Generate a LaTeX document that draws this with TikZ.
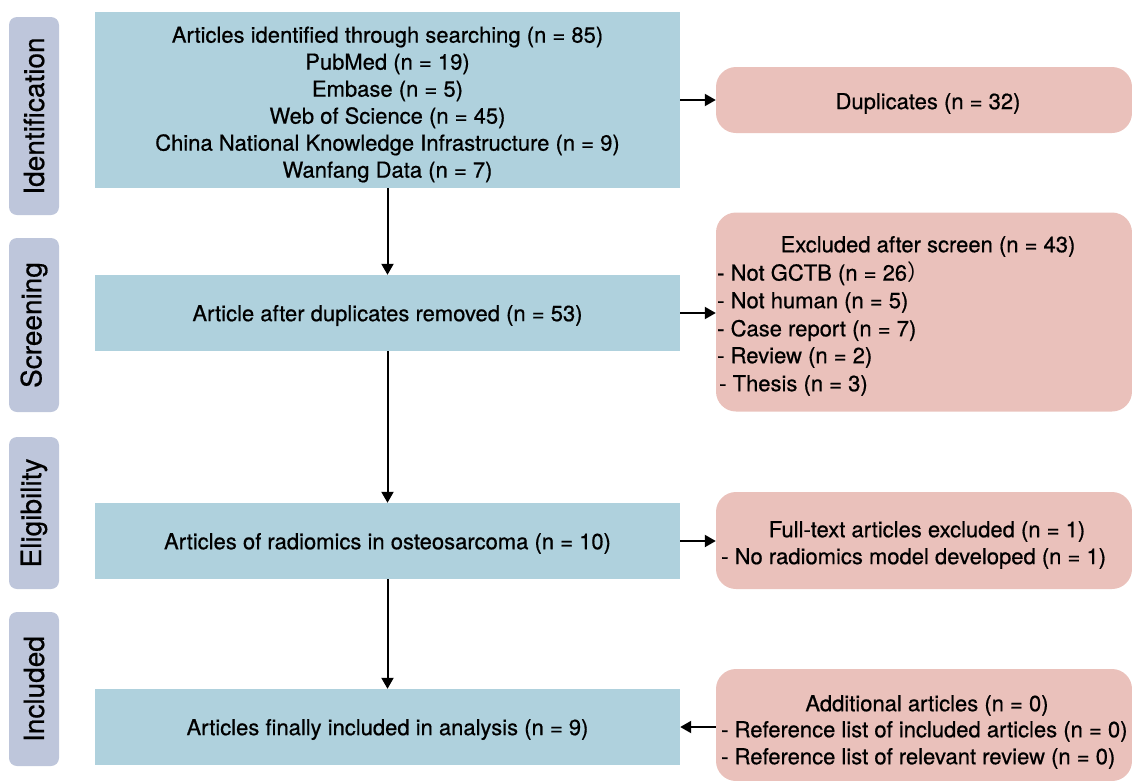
\documentclass[tikz,border=0pt]{standalone}
\usepackage{fontspec}
\setmainfont{TeX Gyre Heros}[FakeBold=0.6]
\newfontfamily\cjkparen{Noto Sans CJK SC}
\usetikzlibrary{arrows.meta}
\definecolor{boxblue}{HTML}{AFD1DD}
\definecolor{boxpink}{HTML}{EAC1BB}
\definecolor{stagegray}{HTML}{BEC6DB}
\tikzset{
  bluebox/.style={fill=boxblue, draw=none, inner sep=0pt},
  pinkbox/.style={fill=boxpink, draw=none, rounded corners=20pt, inner sep=0pt},
  stagebox/.style={fill=stagegray, draw=none, rounded corners=8pt, inner sep=0pt,
    rotate=90, minimum height=50pt, font=\fontsize{28}{30}\selectfont},
  txt/.style={inner sep=0pt, align=center, yshift=-2.5pt, font=\fontsize{22}{27}\selectfont},
  flow/.style={line width=2pt, -{Triangle[length=11pt,width=12pt]}}
}
\begin{document}
\begin{tikzpicture}[x=1pt,y=-1pt]
\useasboundingbox (0,0) rectangle (1132,780);
% stage labels
\node[stagebox, minimum width=198pt] (s1) at (34,116) {Identification};
\node[stagebox, minimum width=174pt] (s2) at (34,325) {Screening};
\node[stagebox, minimum width=152pt] (s3) at (34,513) {Eligibility};
\node[stagebox, minimum width=154pt] (s4) at (34,689) {Included};
% blue boxes
\node[bluebox, minimum width=585pt, minimum height=176pt] (b1) at (387.5,100) {};
\node[bluebox, minimum width=585pt, minimum height=76pt] (b2) at (387.5,313) {};
\node[bluebox, minimum width=585pt, minimum height=76pt] (b3) at (387.5,541) {};
\node[bluebox, minimum width=585pt, minimum height=76pt] (b4) at (387.5,727) {};
\node[txt] (b1t) at (387.5,102)
  {Articles identified through searching (n = 85)\\PubMed (n = 19)\\Embase (n = 5)\\Web of Science (n = 45)\\China National Knowledge Infrastructure (n = 9)\\Wanfang Data (n = 7)};
\node[txt] (b2t) at (b2.center) {Article after duplicates removed (n = 53)};
\node[txt] (b3t) at (b3.center) {Articles of radiomics in osteosarcoma (n = 10)};
\node[txt] (b4t) at (b4.center) {Articles finally included in analysis (n = 9)};
% pink boxes
\node[pinkbox, minimum width=416pt, minimum height=66pt] (p1) at (924,100) {};
\node[pinkbox, minimum width=416pt, minimum height=199pt] (p2) at (924,312) {};
\node[pinkbox, minimum width=416pt, minimum height=97pt] (p3) at (924,540.5) {};
\node[pinkbox, minimum width=416pt, minimum height=112pt] (p4) at (924,725) {};
% pink texts
\node[txt] (p1t) at (928,101) {Duplicates (n = 32)};
\node[txt] (p2t) at (928,244) {Excluded after screen (n = 43)};
\node[txt, anchor=west] (p2a) at (717,271) {- Not GCTB (n = 26{\cjkparen ）}};
\node[txt, anchor=west] (p2b) at (717,300) {- Not human (n = 5)};
\node[txt, anchor=west] (p2c) at (717,328) {- Case report (n = 7)};
\node[txt, anchor=west] (p2d) at (717,355) {- Review (n = 2)};
\node[txt, anchor=west] (p2e) at (719,383) {- Thesis (n = 3)};
\node[txt] (p3t) at (927,529) {Full-text articles excluded (n = 1)};
\node[txt, anchor=west] (p3a) at (721,556) {- No radiomics model developed (n = 1)};
\node[txt] (p4t) at (927,703) {Additional articles (n = 0)};
\node[txt, anchor=west] (p4a) at (721,729) {- Reference list of included articles (n = 0)};
\node[txt, anchor=west] (p4b) at (721,756) {- Reference list of relevant review (n = 0)};
% connectors
\draw[flow] (b1.south) -- (b2.north);
\draw[flow] (b2.south) -- (b3.north);
\draw[flow] (b3.south) -- (b4.north);
\draw[flow] (b1.east |- p1.west) -- (p1.west);
\draw[flow] (b2.east) -- (p2.west |- b2.east);
\draw[flow] (b3.east) -- (p3.west |- b3.east);
\draw[flow] (p4.west |- b4.east) -- (b4.east);
\end{tikzpicture}
\end{document}
